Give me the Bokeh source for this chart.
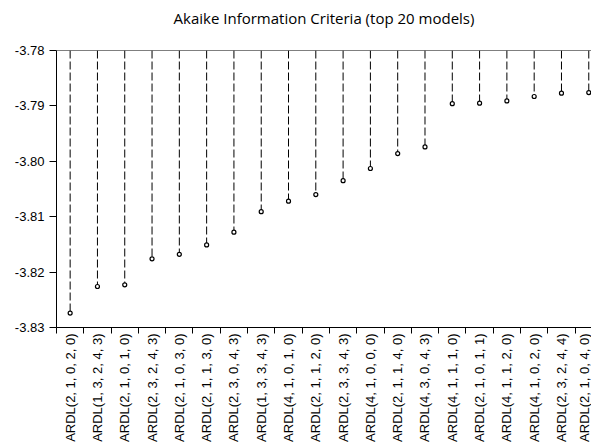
import math
from bokeh.plotting import figure
from bokeh.models import FixedTicker, Span, Range1d, PrintfTickFormatter
from bokeh.embed import file_html
from bokeh.resources import INLINE

models = [
    "ARDL(2, 1, 0, 2, 0)", "ARDL(1, 3, 2, 4, 3)", "ARDL(2, 1, 0, 1, 0)", "ARDL(2, 3, 2, 4, 3)",
    "ARDL(2, 1, 0, 3, 0)", "ARDL(2, 1, 1, 3, 0)", "ARDL(2, 3, 0, 4, 3)", "ARDL(1, 3, 3, 4, 3)",
    "ARDL(4, 1, 0, 1, 0)", "ARDL(2, 1, 1, 2, 0)", "ARDL(2, 3, 3, 4, 3)", "ARDL(4, 1, 0, 0, 0)",
    "ARDL(2, 1, 1, 4, 0)", "ARDL(4, 3, 0, 4, 3)", "ARDL(4, 1, 1, 1, 0)", "ARDL(2, 1, 0, 1, 1)",
    "ARDL(4, 1, 1, 2, 0)", "ARDL(4, 1, 0, 2, 0)", "ARDL(2, 3, 2, 4, 4)", "ARDL(2, 1, 0, 4, 0)",
]
aic = [
    -3.8274, -3.8226, -3.8223, -3.8176, -3.8168, -3.8151, -3.8128, -3.8091,
    -3.8072, -3.8060, -3.8035, -3.8013, -3.7986, -3.7974, -3.7896, -3.7895,
    -3.7891, -3.7883, -3.7877, -3.7876,
]
yticks = [-3.83, -3.82, -3.81, -3.80, -3.79, -3.78]
subtitle = "Akaike Information Criteria (top 20 models)"

xs = list(range(1, len(models) + 1))
top = yticks[-1]

p = figure(width=591, height=444, output_backend="svg", toolbar_location=None,
           x_range=Range1d(0.5, 20.1), y_range=Range1d(yticks[0], yticks[-1]),
           min_border_left=56, min_border_right=0, min_border_top=48, min_border_bottom=116)
p.outline_line_color = None
p.grid.visible = False
p.background_fill_color = "white"
p.border_fill_color = "white"

p.title.text = subtitle + "\n"
p.title.align = "center"
p.title.text_font = "Open Sans"
p.title.text_font_size = "15px"
p.title.text_font_style = "normal"
p.title.text_color = "black"
p.title.text_line_height = 0.9
p.title.standoff = 10
p.title.offset = 4

p.segment(x0=xs, y0=[top] * len(xs), x1=xs, y1=aic, line_color="black",
          line_dash="8 3", line_width=1)
p.scatter(xs, aic, size=4, fill_color="white", line_color="black", line_width=1.2)
p.add_layout(Span(location=top, dimension="width", line_color="black", line_width=1))

xa = p.xaxis[0]
xa.ticker = FixedTicker(ticks=xs, minor_ticks=[i + 0.5 for i in range(0, len(xs))])
xa.major_label_overrides = {i: m for i, m in zip(xs, models)}
xa.major_label_orientation = math.pi / 2
xa.major_tick_line_color = None
xa.major_tick_out = 6
xa.major_tick_in = 0
xa.minor_tick_line_color = "black"
xa.minor_tick_out = 6
xa.minor_tick_in = 0
xa.major_label_standoff = 0
xa.major_label_text_font = "Liberation Sans"
xa.major_label_text_font_size = "13px"
xa.major_label_text_color = "black"
xa.axis_line_color = "black"

ya = p.yaxis[0]
ya.ticker = FixedTicker(ticks=yticks)
ya.formatter = PrintfTickFormatter(format="%.2f")
ya.major_tick_out = 7
ya.major_tick_in = 0
ya.minor_tick_line_color = None
ya.major_tick_line_color = "black"
ya.major_label_standoff = 5
ya.major_label_text_font = "Liberation Sans"
ya.major_label_text_font_size = "13px"
ya.major_label_text_color = "black"
ya.axis_line_color = "black"

open("out.html", "w").write(file_html(p, INLINE))
